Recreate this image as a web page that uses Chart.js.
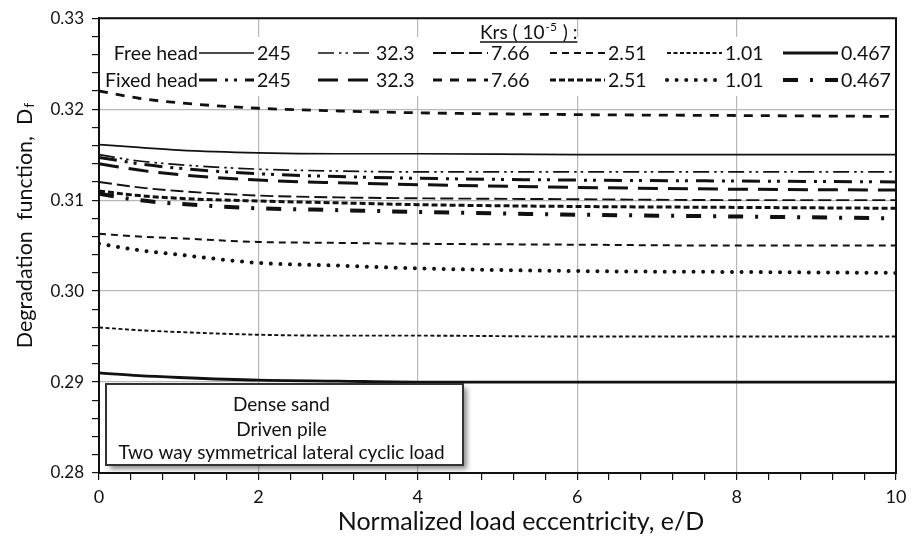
<!DOCTYPE html>
<html>
<head>
<meta charset="utf-8">
<script src="https://cdn.jsdelivr.net/npm/chart.js@4.4.0/dist/chart.umd.min.js"></script>
<style>
html, body { margin: 0; padding: 0; background: #fff; }
#wrap { width: 917px; height: 539px; }
</style>
</head>
<body>
<div id="wrap"><canvas id="chart" width="917" height="539"></canvas></div>
<script>
var eccentricity = [0, 0.5, 1, 2, 3, 4, 6, 8, 10];

// Free head, Krs = 245, 32.3, 7.66, 2.51, 1.01, 0.467 (x10^-5)
var free245  = [0.3161, 0.3158, 0.3155, 0.3152, 0.3151, 0.3151, 0.3150, 0.3150, 0.3150];
var free323  = [0.3150, 0.3143, 0.3139, 0.3134, 0.3132, 0.3131, 0.3131, 0.3131, 0.3131];
var free766  = [0.3120, 0.3114, 0.3110, 0.3105, 0.3103, 0.3102, 0.3101, 0.3100, 0.3100];
var free251  = [0.3063, 0.3060, 0.3058, 0.3054, 0.3053, 0.3052, 0.3051, 0.3050, 0.3050];
var free101  = [0.2960, 0.2957, 0.2955, 0.2952, 0.2951, 0.2951, 0.2950, 0.2950, 0.2950];
var free0467 = [0.2910, 0.2907, 0.2905, 0.2902, 0.2901, 0.2900, 0.2900, 0.2900, 0.2900];

// Fixed head
var fixed245  = [0.3147, 0.3140, 0.3135, 0.3129, 0.3126, 0.3124, 0.3122, 0.3121, 0.3120];
var fixed323  = [0.3140, 0.3133, 0.3128, 0.3122, 0.3119, 0.3117, 0.3114, 0.3112, 0.3111];
var fixed766  = [0.3220, 0.3212, 0.3207, 0.3201, 0.3198, 0.3196, 0.3194, 0.3193, 0.3192];
var fixed251  = [0.3110, 0.3105, 0.3102, 0.3099, 0.3097, 0.3095, 0.3093, 0.3092, 0.3091];
var fixed101  = [0.3052, 0.3045, 0.3040, 0.3031, 0.3028, 0.3025, 0.3022, 0.3021, 0.3020];
var fixed0467 = [0.3107, 0.3100, 0.3096, 0.3091, 0.3089, 0.3087, 0.3084, 0.3082, 0.3080];

var krsLabels = ["245", "32.3", "7.66", "2.51", "1.01", "0.467"];
var headLabels = ["Free head", "Fixed head"];
var xTickLabels = [0, 2, 4, 6, 8, 10];
var yTickLabels = [0.28, 0.29, 0.30, 0.31, 0.32, 0.33];
var boxLines = ["Dense sand", "Driven pile", "Two way symmetrical lateral cyclic load"];

var freeSeries = [free245, free323, free766, free251, free101, free0467];
var fixedSeries = [fixed245, fixed323, fixed766, fixed251, fixed101, fixed0467];

// line styles, same order as krsLabels
var freeStyles = [
    { w: 1.7, dash: [] },
    { w: 1.7, dash: [16, 5, 2.5, 4, 2.5, 5] },
    { w: 1.9, dash: [13, 5] },
    { w: 2, dash: [7, 5] },
    { w: 1.9, dash: [4, 2.5] },
    { w: 2.8, dash: [] }
];
var fixedStyles = [
    { w: 3, dash: [18, 8, 3, 6, 3, 8] },
    { w: 3, dash: [20, 10] },
    { w: 2.8, dash: [9, 8] },
    { w: 3, dash: [6, 3] },
    { w: 4, dash: [0.01, 9.6], cap: "round" },
    { w: 4, dash: [15, 12, 3, 12] }
];

var INK = "#111";
var FONT = "Lato";

function makeSet(label, values, st) {
    return {
        label: label,
        data: values.map(function (v, i) { return { x: eccentricity[i], y: v }; }),
        borderColor: INK,
        borderWidth: st.w,
        borderDash: st.dash,
        borderCapStyle: st.cap || "butt",
        pointRadius: 0,
        fill: false,
        cubicInterpolationMode: "monotone"
    };
}

var datasets = [];
for (var i = 0; i < krsLabels.length; i++) {
    datasets.push(makeSet("Free head " + krsLabels[i], freeSeries[i], freeStyles[i]));
    datasets.push(makeSet("Fixed head " + krsLabels[i], fixedSeries[i], fixedStyles[i]));
}

function isMultiple(v, step) {
    var q = v / step;
    return Math.abs(q - Math.round(q)) < 1e-6;
}

// legend box (drawn under the curves, over the grid)
var legendPlugin = {
    id: "krsLegend",
    beforeDatasetsDraw: function (chart) {
        var ctx = chart.ctx;
        var a = chart.chartArea;
        ctx.save();
        ctx.fillStyle = "#fff";
        ctx.fillRect(a.left + 2, 37, a.right - a.left - 4, 59);

        // title "Krs ( 10^-5 ) :"
        ctx.fillStyle = INK;
        ctx.textBaseline = "alphabetic";
        ctx.textAlign = "left";
        var tx = 480, ty = 39;
        ctx.font = "19px " + FONT;
        ctx.fillText("Krs ( 10", tx, ty);
        var w1 = ctx.measureText("Krs ( 10").width;
        ctx.font = "12px " + FONT;
        ctx.fillText("-5", tx + w1 + 1, ty - 8);
        var w2 = ctx.measureText("-5").width;
        ctx.font = "19px " + FONT;
        ctx.fillText(" ) :", tx + w1 + w2 + 2, ty);
        var w3 = ctx.measureText(" ) :").width;
        ctx.strokeStyle = INK;
        ctx.lineWidth = 1.3;
        ctx.beginPath();
        ctx.moveTo(tx, ty + 3);
        ctx.lineTo(tx + w1 + w2 + w3 + 2, ty + 3);
        ctx.stroke();

        var rowY = [53, 80];
        var lineX = [199, 318, 433, 550, 667, 783];
        var lineLen = 55;
        var styles = [freeStyles, fixedStyles];
        ctx.textBaseline = "middle";
        for (var r = 0; r < 2; r++) {
            ctx.font = "19.5px " + FONT;
            ctx.textAlign = "right";
            ctx.fillStyle = INK;
            ctx.fillText(headLabels[r], 198, rowY[r] + 1);
            for (var c = 0; c < krsLabels.length; c++) {
                var st = styles[r][c];
                ctx.save();
                ctx.setLineDash(st.dash);
                ctx.lineWidth = st.w;
                ctx.lineCap = st.cap || "butt";
                ctx.strokeStyle = INK;
                ctx.beginPath();
                ctx.moveTo(lineX[c], rowY[r]);
                ctx.lineTo(lineX[c] + lineLen, rowY[r]);
                ctx.stroke();
                ctx.restore();
                ctx.textAlign = "left";
                ctx.fillText(krsLabels[c], lineX[c] + lineLen + 3, rowY[r] + 1);
            }
        }
        ctx.restore();
    },
    afterDraw: function (chart) {
        var ctx = chart.ctx;
        var a = chart.chartArea;
        ctx.save();
        // frame
        ctx.strokeStyle = INK;
        ctx.lineWidth = 2;
        ctx.strokeRect(a.left, a.top, a.right - a.left, a.bottom - a.top);

        // note box with shadow
        var bx = 106, by = 384, bw = 357, bh = 81;
        ctx.save();
        ctx.shadowColor = "rgba(0,0,0,0.45)";
        ctx.shadowBlur = 5;
        ctx.shadowOffsetX = 4;
        ctx.shadowOffsetY = 4;
        ctx.fillStyle = "#fff";
        ctx.fillRect(bx, by, bw, bh);
        ctx.restore();
        ctx.strokeStyle = "#333";
        ctx.lineWidth = 2;
        ctx.strokeRect(bx, by, bw, bh);
        ctx.fillStyle = INK;
        ctx.font = "19px " + FONT;
        ctx.textAlign = "center";
        ctx.textBaseline = "middle";
        var ly = [405, 430, 453];
        for (var k = 0; k < boxLines.length; k++) {
            ctx.fillText(boxLines[k], bx + bw / 2 - 3, ly[k]);
        }

        // axis titles
        ctx.font = "25px " + FONT;
        ctx.fillText("Normalized load eccentricity, e/D", 521, 522);

        ctx.translate(25, 226);
        ctx.rotate(-Math.PI / 2);
        var main = "Degradation  function,  D";
        ctx.font = "21.5px " + FONT;
        var mw = ctx.measureText(main).width;
        ctx.font = "14px " + FONT;
        var sw = ctx.measureText("f").width;
        var start = -(mw + sw) / 2;
        ctx.textAlign = "left";
        ctx.font = "21.5px " + FONT;
        ctx.fillText(main, start, 0);
        ctx.font = "14px " + FONT;
        ctx.fillText("f", start + mw + 1, 4);
        ctx.restore();
    }
};

new Chart(document.getElementById("chart").getContext("2d"), {
    type: "line",
    data: { datasets: datasets },
    options: {
        responsive: false,
        animation: false,
        layout: { padding: { top: 17, right: 21, left: 0, bottom: 0 } },
        plugins: {
            legend: { display: false },
            tooltip: { enabled: false }
        },
        scales: {
            x: {
                type: "linear",
                min: xTickLabels[0],
                max: xTickLabels[xTickLabels.length - 1],
                afterFit: function (s) { s.height = 66; },
                grid: {
                    color: function (c) {
                        var v = c.tick ? c.tick.value : 0;
                        return isMultiple(v, 2) ? "#b8b8b8" : "rgba(0,0,0,0)";
                    },
                    tickColor: INK,
                    tickLength: 7,
                    lineWidth: 1.2
                },
                border: { color: INK, width: 2 },
                ticks: {
                    stepSize: 0.4,
                    autoSkip: false,
                    maxRotation: 0,
                    padding: 6,
                    color: INK,
                    font: { family: FONT, size: 18 },
                    callback: function (v) {
                        return isMultiple(v, 2) ? String(Math.round(v)) : "";
                    }
                }
            },
            y: {
                type: "linear",
                min: yTickLabels[0],
                max: yTickLabels[yTickLabels.length - 1],
                afterFit: function (s) { s.width = 99; },
                grid: {
                    color: function (c) {
                        var v = c.tick ? c.tick.value : 0;
                        return isMultiple(v, 0.01) ? "#b8b8b8" : "rgba(0,0,0,0)";
                    },
                    tickColor: INK,
                    tickLength: 7,
                    lineWidth: 1.2
                },
                border: { color: INK, width: 2 },
                ticks: {
                    stepSize: 0.002,
                    autoSkip: false,
                    padding: 8,
                    color: INK,
                    font: { family: FONT, size: 17 },
                    callback: function (v) {
                        return isMultiple(v, 0.01) ? v.toFixed(2) : "";
                    }
                }
            }
        }
    },
    plugins: [legendPlugin]
});
</script>
</body>
</html>
